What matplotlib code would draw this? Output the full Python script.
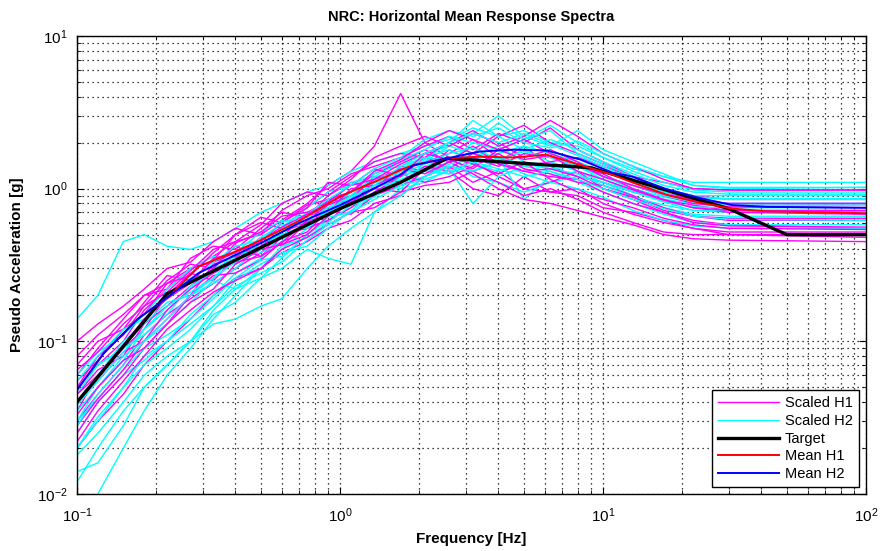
import matplotlib
matplotlib.use("Agg")
import matplotlib.pyplot as plt
from matplotlib.lines import Line2D

plt.rcParams["font.family"] = ["Liberation Sans", "DejaVu Sans"]
plt.rcParams["mathtext.fontset"] = "custom"
plt.rcParams["mathtext.rm"] = "Liberation Sans"

# frequency grid of the scaled records [Hz]
freq = [0.1, 0.12, 0.15, 0.18, 0.22, 0.27, 0.33, 0.4, 0.5, 0.6, 0.75, 0.9, 1.1, 1.35,
        1.7, 2.1, 2.6, 3.2, 4.0, 5.0, 6.3, 8.0, 10, 13, 17, 22, 30, 100]

# scaled H1 records [g]
h1_1 = [0.05, 0.07, 0.1, 0.16, 0.22, 0.3, 0.36, 0.45, 0.5, 0.62, 0.8, 1.05, 1.3, 1.9, 4.2, 2.0, 1.6, 1.3, 1.5, 1.9, 1.4, 1.2, 1.1, 0.95, 0.85, 0.78, 0.72, 0.7]
h1_2 = [0.1, 0.13, 0.17, 0.22, 0.3, 0.33, 0.45, 0.55, 0.5, 0.72, 0.9, 1.0, 1.25, 1.4, 1.6, 1.9, 2.2, 1.8, 2.3, 2.0, 2.5, 1.8, 1.5, 1.2, 1.1, 1.0, 0.98, 0.98]
h1_3 = [0.02, 0.03, 0.045, 0.07, 0.1, 0.14, 0.2, 0.26, 0.3, 0.38, 0.45, 0.55, 0.62, 0.8, 0.9, 1.2, 1.4, 1.1, 1.3, 1.0, 0.95, 0.9, 0.75, 0.7, 0.62, 0.55, 0.5, 0.48]
h1_4 = [0.035, 0.06, 0.09, 0.12, 0.2, 0.28, 0.25, 0.35, 0.48, 0.42, 0.6, 0.85, 0.8, 1.1, 1.3, 1.5, 1.7, 2.1, 1.6, 1.4, 1.5, 1.6, 1.4, 1.2, 0.95, 0.85, 0.8, 0.8]
h1_5 = [0.06, 0.09, 0.14, 0.2, 0.22, 0.35, 0.42, 0.4, 0.55, 0.7, 0.65, 0.9, 1.1, 1.0, 1.4, 1.3, 1.8, 1.5, 1.2, 1.0, 1.1, 1.3, 1.0, 0.85, 0.7, 0.62, 0.58, 0.55]
h1_6 = [0.03, 0.045, 0.07, 0.11, 0.15, 0.19, 0.24, 0.3, 0.38, 0.5, 0.55, 0.62, 0.75, 0.95, 1.2, 1.6, 1.35, 1.7, 2.2, 2.6, 2.0, 1.7, 1.45, 1.2, 1.0, 0.9, 0.85, 0.85]
h1_7 = [0.045, 0.065, 0.08, 0.13, 0.17, 0.23, 0.3, 0.42, 0.36, 0.48, 0.7, 0.6, 0.85, 1.2, 1.1, 1.4, 1.3, 1.0, 0.9, 1.2, 0.95, 1.0, 0.8, 0.68, 0.6, 0.55, 0.52, 0.52]
h1_8 = [0.07, 0.1, 0.12, 0.18, 0.27, 0.25, 0.34, 0.5, 0.6, 0.55, 0.75, 0.95, 1.2, 1.5, 1.7, 1.6, 2.0, 2.4, 1.9, 2.2, 2.8, 2.2, 1.7, 1.4, 1.15, 1.0, 0.98, 0.98]
h1_9 = [0.025, 0.04, 0.06, 0.09, 0.13, 0.2, 0.27, 0.28, 0.34, 0.45, 0.52, 0.72, 0.68, 0.9, 1.05, 1.2, 1.5, 1.25, 1.0, 0.85, 0.8, 0.72, 0.65, 0.58, 0.5, 0.47, 0.46, 0.45]
h1_10 = [0.055, 0.075, 0.12, 0.15, 0.24, 0.3, 0.33, 0.38, 0.45, 0.6, 0.78, 0.85, 0.95, 1.25, 1.5, 1.8, 1.5, 1.6, 1.4, 1.7, 1.6, 1.4, 1.25, 1.0, 0.85, 0.75, 0.7, 0.68]
h1_11 = [0.04, 0.055, 0.085, 0.1, 0.14, 0.2, 0.32, 0.36, 0.42, 0.52, 0.6, 0.7, 1.0, 1.05, 1.25, 1.1, 1.2, 1.4, 1.7, 1.35, 1.25, 1.1, 1.05, 0.9, 0.75, 0.66, 0.62, 0.62]
h1_12 = [0.08, 0.11, 0.15, 0.2, 0.24, 0.27, 0.38, 0.5, 0.65, 0.6, 0.75, 1.1, 1.05, 1.35, 1.2, 1.7, 2.0, 1.7, 1.5, 1.3, 1.2, 1.15, 0.95, 0.8, 0.7, 0.6, 0.57, 0.56]
h1_13 = [0.022, 0.035, 0.055, 0.08, 0.12, 0.16, 0.21, 0.25, 0.3, 0.4, 0.48, 0.58, 0.7, 0.75, 0.95, 1.05, 1.1, 1.3, 1.1, 0.9, 1.0, 0.85, 0.7, 0.6, 0.52, 0.5, 0.5, 0.5]
h1_14 = [0.05, 0.08, 0.11, 0.17, 0.21, 0.29, 0.4, 0.45, 0.58, 0.8, 0.95, 0.9, 1.15, 1.6, 1.9, 2.2, 1.9, 2.3, 2.0, 1.6, 1.8, 1.5, 1.2, 1.05, 0.9, 0.8, 0.76, 0.75]
h1_15 = [0.028, 0.042, 0.065, 0.1, 0.16, 0.22, 0.28, 0.33, 0.36, 0.44, 0.62, 0.78, 0.9, 1.15, 1.35, 1.25, 1.5, 1.9, 1.45, 1.3, 1.35, 1.2, 1.0, 0.88, 0.72, 0.66, 0.64, 0.64]
h1_16 = [0.065, 0.085, 0.13, 0.17, 0.25, 0.32, 0.3, 0.44, 0.52, 0.66, 0.7, 0.82, 1.05, 1.15, 1.45, 1.7, 1.55, 1.35, 1.8, 2.1, 1.7, 1.45, 1.2, 1.05, 0.92, 0.84, 0.8, 0.8]
h1_17 = [0.033, 0.05, 0.075, 0.09, 0.13, 0.18, 0.22, 0.32, 0.4, 0.43, 0.5, 0.66, 0.82, 1.0, 0.95, 1.35, 1.6, 1.45, 1.25, 1.5, 1.15, 0.95, 0.85, 0.75, 0.64, 0.58, 0.55, 0.54]
h1_18 = [0.045, 0.06, 0.095, 0.14, 0.19, 0.24, 0.35, 0.38, 0.46, 0.56, 0.68, 0.8, 0.95, 1.3, 1.55, 2.0, 2.4, 2.1, 1.8, 1.55, 1.65, 1.3, 1.15, 0.98, 0.84, 0.75, 0.72, 0.72]

# scaled H2 records [g]
h2_1 = [0.14, 0.2, 0.45, 0.5, 0.42, 0.4, 0.45, 0.55, 0.7, 0.8, 0.95, 1.05, 1.3, 1.5, 1.7, 1.9, 2.1, 2.5, 2.2, 2.4, 2.0, 1.9, 1.6, 1.35, 1.2, 1.1, 1.1, 1.1]
h2_2 = [0.006, 0.01, 0.02, 0.035, 0.06, 0.09, 0.14, 0.2, 0.3, 0.4, 0.55, 0.7, 0.9, 1.0, 1.2, 1.4, 1.6, 1.3, 1.5, 1.8, 1.5, 1.3, 1.1, 0.95, 0.85, 0.8, 0.78, 0.78]
h2_3 = [0.014, 0.016, 0.028, 0.05, 0.07, 0.1, 0.16, 0.22, 0.26, 0.35, 0.5, 0.62, 0.75, 0.95, 1.15, 1.3, 1.25, 1.6, 1.9, 1.5, 1.4, 1.45, 1.2, 1.0, 0.88, 0.82, 0.8, 0.8]
h2_4 = [0.02, 0.03, 0.05, 0.08, 0.1, 0.13, 0.17, 0.25, 0.32, 0.38, 0.42, 0.55, 0.72, 0.9, 1.1, 1.3, 1.5, 1.2, 1.1, 0.95, 1.1, 1.2, 1.1, 0.9, 0.75, 0.68, 0.66, 0.66]
h2_5 = [0.05, 0.07, 0.09, 0.14, 0.2, 0.26, 0.28, 0.33, 0.48, 0.58, 0.6, 0.8, 1.1, 1.2, 1.5, 1.7, 1.9, 2.3, 3.0, 2.2, 1.9, 2.4, 1.8, 1.5, 1.25, 1.05, 1.0, 1.02]
h2_6 = [0.03, 0.05, 0.075, 0.12, 0.16, 0.22, 0.3, 0.35, 0.38, 0.45, 0.62, 0.75, 0.8, 1.0, 1.35, 1.6, 1.8, 1.55, 1.7, 1.9, 1.7, 1.5, 1.3, 1.1, 0.95, 0.88, 0.85, 0.85]
h2_7 = [0.025, 0.04, 0.06, 0.075, 0.1, 0.15, 0.2, 0.28, 0.35, 0.5, 0.58, 0.68, 0.85, 1.1, 1.0, 1.5, 1.9, 1.7, 1.6, 0.85, 1.2, 1.3, 1.15, 0.98, 0.82, 0.72, 0.7, 0.7]
h2_8 = [0.04, 0.06, 0.1, 0.13, 0.18, 0.2, 0.24, 0.3, 0.42, 0.52, 0.7, 0.75, 0.95, 1.3, 1.4, 1.6, 1.5, 2.0, 2.7, 2.1, 2.6, 2.0, 1.6, 1.3, 1.1, 0.98, 0.95, 0.95]
h2_9 = [0.018, 0.025, 0.04, 0.06, 0.08, 0.1, 0.15, 0.18, 0.26, 0.3, 0.4, 0.35, 0.32, 0.7, 1.0, 1.1, 1.35, 0.8, 1.2, 1.4, 1.3, 1.1, 0.95, 0.8, 0.68, 0.6, 0.58, 0.58]
h2_10 = [0.06, 0.085, 0.11, 0.15, 0.22, 0.3, 0.36, 0.32, 0.4, 0.55, 0.75, 0.95, 1.05, 1.25, 1.55, 1.8, 2.2, 2.0, 1.8, 2.1, 2.4, 1.7, 1.45, 1.2, 1.0, 0.9, 0.9, 0.9]
h2_11 = [0.035, 0.05, 0.08, 0.1, 0.13, 0.18, 0.25, 0.22, 0.3, 0.42, 0.48, 0.6, 0.78, 0.88, 1.2, 1.35, 1.25, 1.45, 1.3, 1.5, 1.35, 1.25, 1.05, 0.88, 0.78, 0.72, 0.72, 0.72]
h2_12 = [0.03, 0.042, 0.065, 0.09, 0.11, 0.14, 0.19, 0.26, 0.34, 0.36, 0.5, 0.65, 0.7, 1.05, 1.1, 1.2, 1.45, 1.55, 1.5, 1.25, 1.1, 1.0, 0.88, 0.72, 0.62, 0.57, 0.55, 0.55]
h2_13 = [0.012, 0.02, 0.035, 0.05, 0.07, 0.1, 0.13, 0.14, 0.17, 0.19, 0.3, 0.42, 0.55, 0.7, 0.9, 1.2, 1.4, 1.3, 1.6, 1.45, 1.35, 1.4, 1.15, 0.95, 0.82, 0.76, 0.75, 0.75]
h2_14 = [0.045, 0.07, 0.09, 0.11, 0.15, 0.23, 0.28, 0.38, 0.52, 0.62, 0.55, 0.7, 0.95, 1.15, 1.3, 1.55, 2.0, 2.8, 2.2, 1.8, 2.1, 1.8, 1.5, 1.25, 1.05, 0.95, 0.92, 0.92]
h2_15 = [0.028, 0.045, 0.07, 0.1, 0.14, 0.2, 0.26, 0.33, 0.44, 0.5, 0.56, 0.72, 0.9, 1.2, 1.25, 1.45, 1.7, 1.85, 1.55, 1.75, 1.6, 1.4, 1.2, 1.05, 0.9, 0.82, 0.8, 0.8]
h2_16 = [0.055, 0.08, 0.12, 0.14, 0.19, 0.25, 0.33, 0.42, 0.46, 0.6, 0.68, 0.85, 1.05, 1.35, 1.6, 2.1, 2.4, 2.2, 2.5, 2.0, 1.85, 2.05, 1.7, 1.4, 1.2, 1.05, 1.02, 1.02]
h2_17 = [0.02, 0.032, 0.05, 0.07, 0.09, 0.12, 0.17, 0.23, 0.28, 0.33, 0.46, 0.58, 0.7, 0.85, 1.05, 1.15, 1.3, 1.5, 1.35, 1.2, 1.3, 1.15, 1.0, 0.85, 0.74, 0.66, 0.63, 0.62]
h2_18 = [0.038, 0.055, 0.085, 0.12, 0.17, 0.21, 0.26, 0.37, 0.4, 0.52, 0.66, 0.68, 0.88, 1.05, 1.4, 1.7, 2.0, 2.3, 2.0, 2.3, 1.95, 1.65, 1.4, 1.15, 0.98, 0.88, 0.86, 0.86]

scaled_h1 = [h1_1, h1_2, h1_3, h1_4, h1_5, h1_6, h1_7, h1_8, h1_9,
             h1_10, h1_11, h1_12, h1_13, h1_14, h1_15, h1_16, h1_17, h1_18]
scaled_h2 = [h2_1, h2_2, h2_3, h2_4, h2_5, h2_6, h2_7, h2_8, h2_9,
             h2_10, h2_11, h2_12, h2_13, h2_14, h2_15, h2_16, h2_17, h2_18]

# target spectrum
target_freq = [0.1, 0.22, 1.0, 1.7, 2.55, 9, 30, 50, 100]
target_sa = [0.04, 0.205, 0.74, 1.1, 1.58, 1.37, 0.74, 0.5, 0.5]

# mean spectra
mean_freq = [0.1, 0.126, 0.17, 0.226, 0.29, 0.39, 0.5, 0.705, 1.0, 1.42, 1.69, 1.9, 2.55, 3.4,
             4.57, 6.1, 7.0, 8.2, 10.9, 12.9, 17.5, 23.2, 31, 42, 100]
mean_h1 = [0.048, 0.083, 0.14, 0.2, 0.31, 0.38, 0.46, 0.62, 0.89, 1.15, 1.32, 1.43, 1.58, 1.62,
           1.6, 1.67, 1.55, 1.43, 1.23, 1.1, 0.91, 0.81, 0.74, 0.71, 0.69]
mean_h2 = [0.048, 0.083, 0.14, 0.2, 0.28, 0.36, 0.44, 0.6, 0.78, 1.05, 1.23, 1.42, 1.58, 1.75,
           1.8, 1.78, 1.67, 1.55, 1.27, 1.2, 0.99, 0.87, 0.78, 0.76, 0.75]

fig = plt.figure(figsize=(8.82, 5.51), dpi=100)
ax = fig.add_axes([0.0873, 0.1034, 0.8947, 0.8313])

for a, b in zip(scaled_h1, scaled_h2):
    ax.loglog(freq, a, color="#ff00ff", lw=1.0)
    ax.loglog(freq, b, color="#00ffff", lw=1.0)
ax.loglog(target_freq, target_sa, color="k", lw=2.4)
ax.loglog(mean_freq, mean_h1, color="#ff0000", lw=1.4)
ax.loglog(mean_freq, mean_h2, color="#0000ff", lw=1.4)

ax.set_xlim(0.1, 100)
ax.set_ylim(0.01, 10)
ax.grid(True, which="both", linestyle=(0, (1, 3)), color="k", linewidth=0.9)
ax.tick_params(which="both", direction="in", top=True, right=True, labelsize=11)
ax.tick_params(axis="x", which="major", pad=9)
ax.tick_params(axis="y", which="major", pad=7)
ax.tick_params(which="major", length=5)
ax.tick_params(which="minor", length=3)
for s in ax.spines.values():
    s.set_linewidth(1.0)

ax.set_title("NRC: Horizontal Mean Response Spectra", fontsize=10.5, fontweight="bold", pad=11)
ax.set_xlabel("Frequency [Hz]", fontsize=11, fontweight="bold", labelpad=5)
ax.set_ylabel("Pseudo Acceleration [g]", fontsize=11, fontweight="bold", labelpad=9)

handles = [
    Line2D([], [], color="#ff00ff", lw=1.0),
    Line2D([], [], color="#00ffff", lw=1.0),
    Line2D([], [], color="k", lw=2.4),
    Line2D([], [], color="#ff0000", lw=1.4),
    Line2D([], [], color="#0000ff", lw=1.4),
]
labels = ["Scaled H1", "Scaled H2", "Target", "Mean H1", "Mean H2"]
leg = ax.legend(handles, labels, loc="lower right", fontsize=10.5, handlelength=4.2,
                fancybox=False, framealpha=1, edgecolor="k", borderaxespad=0.5,
                labelspacing=0.25, handletextpad=0.4, borderpad=0.4)
leg.get_frame().set_linewidth(1.0)

fig.savefig("out.png", dpi=100)
